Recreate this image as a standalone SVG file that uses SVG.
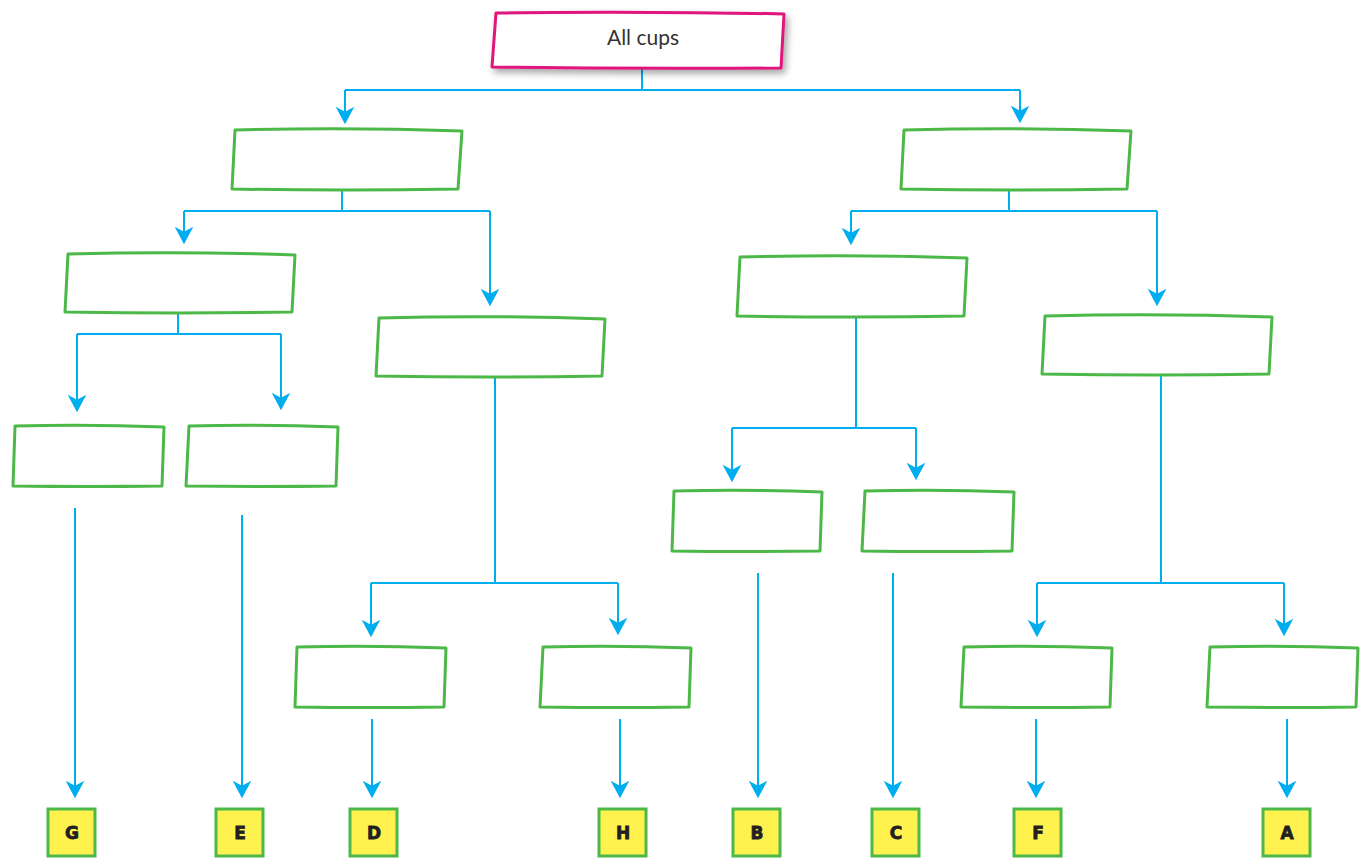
<svg xmlns="http://www.w3.org/2000/svg" width="1361" height="858" viewBox="0 0 1361 858">
<style>
.box{fill:#ffffff;stroke:#4cb848;stroke-width:3;stroke-linejoin:round}
.root{fill:#ffffff;stroke:#e0147b;stroke-width:3;stroke-linejoin:round}
.conn{fill:none;stroke:#00aeef;stroke-width:2;marker-end:url(#arr)}
.seg{fill:none;stroke:#00aeef;stroke-width:2}
.lbox{fill:#fff24f;stroke:#4cb848;stroke-width:3}
.ltxt{font-family:"DejaVu Sans","Liberation Sans",sans-serif;font-weight:bold;font-size:17px;fill:#231f20;stroke:#231f20;stroke-width:0.8;text-anchor:middle}
.rtxt{font-family:Lato,"Open Sans",sans-serif;font-size:21px;fill:#333333;text-anchor:middle}
</style>
<defs>
<marker id="arr" markerUnits="userSpaceOnUse" markerWidth="22" markerHeight="22" viewBox="-16 -10 20 20" refX="0" refY="0" orient="auto">
<path d="M3,0 L-13,-8.5 L-8.5,0 L-13,8.5 Z" fill="#00aeef"/>
</marker>
<filter id="sh" x="-10%" y="-30%" width="125%" height="180%">
<feDropShadow dx="3" dy="4" stdDeviation="3.5" flood-color="#000" flood-opacity="0.35"/>
</filter>
</defs>
<rect width="1361" height="858" fill="#ffffff"/>
<g id="connectors">
<path class="seg" d="M642,68 V90 M345,90 H1020"/>
<path class="conn" d="M345,90 V121"/>
<path class="conn" d="M1020,90 V120"/>
<path class="seg" d="M342,190 V211 M184,211 H490"/>
<path class="conn" d="M184,211 V241"/>
<path class="conn" d="M490,211 V303"/>
<path class="seg" d="M1009,190 V211 M851,211 H1157"/>
<path class="conn" d="M851,211 V242"/>
<path class="conn" d="M1157,211 V303"/>
<path class="seg" d="M178,312 V334 M77,334 H281"/>
<path class="conn" d="M77,334 V409"/>
<path class="conn" d="M281,334 V407"/>
<path class="seg" d="M495,376 V583 M371,583 H618"/>
<path class="conn" d="M371,583 V634"/>
<path class="conn" d="M618,583 V632"/>
<path class="seg" d="M856,316 V428 M732,428 H916"/>
<path class="conn" d="M732,428 V479"/>
<path class="conn" d="M916,428 V477"/>
<path class="seg" d="M1161,374 V583 M1037,583 H1284"/>
<path class="conn" d="M1037,583 V634"/>
<path class="conn" d="M1284,583 V633"/>
<path class="conn" d="M75,508 V795"/>
<path class="conn" d="M242,515 V795"/>
<path class="conn" d="M372,719 V795"/>
<path class="conn" d="M620,719 V795"/>
<path class="conn" d="M758,573 V795"/>
<path class="conn" d="M893,573 V795"/>
<path class="conn" d="M1036,719 V795"/>
<path class="conn" d="M1287,719 V795"/>
</g>
<g id="root">
<path class="root" filter="url(#sh)" d="M496,13 Q640,11 784,14 L781,68 Q636,69 492,67 Z"/>
<text class="rtxt" x="643" y="45">All cups</text>
</g>
<g id="n1a"><path class="box" d="M235,130 Q348,127 462,131 L458,189 Q345,191 232,189 Z"/></g>
<g id="n1b"><path class="box" d="M904,130 Q1017,127 1131,131 L1127,189 Q1014,191 901,189 Z"/></g>
<g id="n2a"><path class="box" d="M68,254 Q181,251 295,255 L292,312 Q179,314 65,312 Z"/></g>
<g id="n2b"><path class="box" d="M379,318 Q492,315 605,319 L602,376 Q489,378 376,376 Z"/></g>
<g id="n2c"><path class="box" d="M740,257 Q853,254 967,258 L964,316 Q851,318 737,316 Z"/></g>
<g id="n2d"><path class="box" d="M1045,316 Q1158,313 1272,317 L1269,374 Q1156,376 1042,374 Z"/></g>
<g id="n3a"><path class="box" d="M15,426 Q90,424 164,427 L162,486 Q88,487 13,486 Z"/></g>
<g id="n3b"><path class="box" d="M189,426 Q263,424 338,427 L336,486 Q261,487 186,486 Z"/></g>
<g id="n3c"><path class="box" d="M674,491 Q748,489 822,492 L820,551 Q746,552 672,551 Z"/></g>
<g id="n3d"><path class="box" d="M865,491 Q939,489 1014,492 L1012,551 Q937,552 862,551 Z"/></g>
<g id="n3e"><path class="box" d="M297,647 Q371,645 446,648 L444,707 Q369,708 295,707 Z"/></g>
<g id="n3f"><path class="box" d="M543,647 Q617,645 691,648 L689,707 Q614,708 540,707 Z"/></g>
<g id="n3g"><path class="box" d="M964,647 Q1038,645 1112,648 L1110,707 Q1035,708 961,707 Z"/></g>
<g id="n3h"><path class="box" d="M1210,647 Q1284,645 1358,648 L1356,707 Q1281,708 1207,707 Z"/></g>
<g id="lG"><rect class="lbox" x="48" y="809" width="47" height="47"/><text class="ltxt" x="72" y="839">G</text></g>
<g id="lE"><rect class="lbox" x="216" y="809" width="47" height="47"/><text class="ltxt" x="240" y="839">E</text></g>
<g id="lD"><rect class="lbox" x="350" y="809" width="47" height="47"/><text class="ltxt" x="374" y="839">D</text></g>
<g id="lH"><rect class="lbox" x="599" y="809" width="47" height="47"/><text class="ltxt" x="623" y="839">H</text></g>
<g id="lB"><rect class="lbox" x="733" y="809" width="47" height="47"/><text class="ltxt" x="757" y="839">B</text></g>
<g id="lC"><rect class="lbox" x="872" y="809" width="47" height="47"/><text class="ltxt" x="896" y="839">C</text></g>
<g id="lF"><rect class="lbox" x="1014" y="809" width="47" height="47"/><text class="ltxt" x="1038" y="839">F</text></g>
<g id="lA"><rect class="lbox" x="1263" y="809" width="47" height="47"/><text class="ltxt" x="1287" y="839">A</text></g>
</svg>
